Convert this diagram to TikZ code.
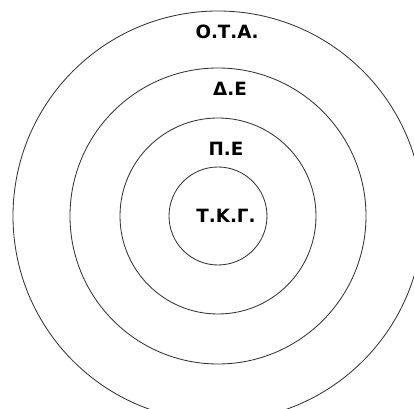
\documentclass[tikz,border=0pt]{standalone}
\usepackage{fontspec}
\setmainfont{DejaVu Sans}
\usetikzlibrary{positioning}

\tikzset{
  ring/.style={circle, draw=black!80, line width=0.6pt, inner sep=0pt},
  lvl/.style={font=\bfseries\fontsize{13}{15}\selectfont, inner sep=0pt}
}

\begin{document}
\begin{tikzpicture}

\clip (-5.45,-4.825) rectangle (4.9,5.4);

% ---------- KYKLOI ----------

\node[ring, minimum size=10.25cm] (ota) at (0,0) {};
\node[ring, minimum size=7.4cm] (de) at (0,0) {};
\node[ring, minimum size=4.9cm] (pe) at (0,0) {};
\node[ring, minimum size=2.45cm] (tkg) at (0,0) {};

% ---------- ETIKETES ----------

\node[lvl] (otalbl) at (0.225,4.6) {Ο.Τ.Α.};
\node[lvl] (delbl) at (0.3,3.175) {Δ.Ε};
\node[lvl] (pelbl) at (0.2,1.675) {Π.Ε};
\node[lvl] (tkglbl) at (0.2,0) {Τ.Κ.Γ.};

\end{tikzpicture}
\end{document}
